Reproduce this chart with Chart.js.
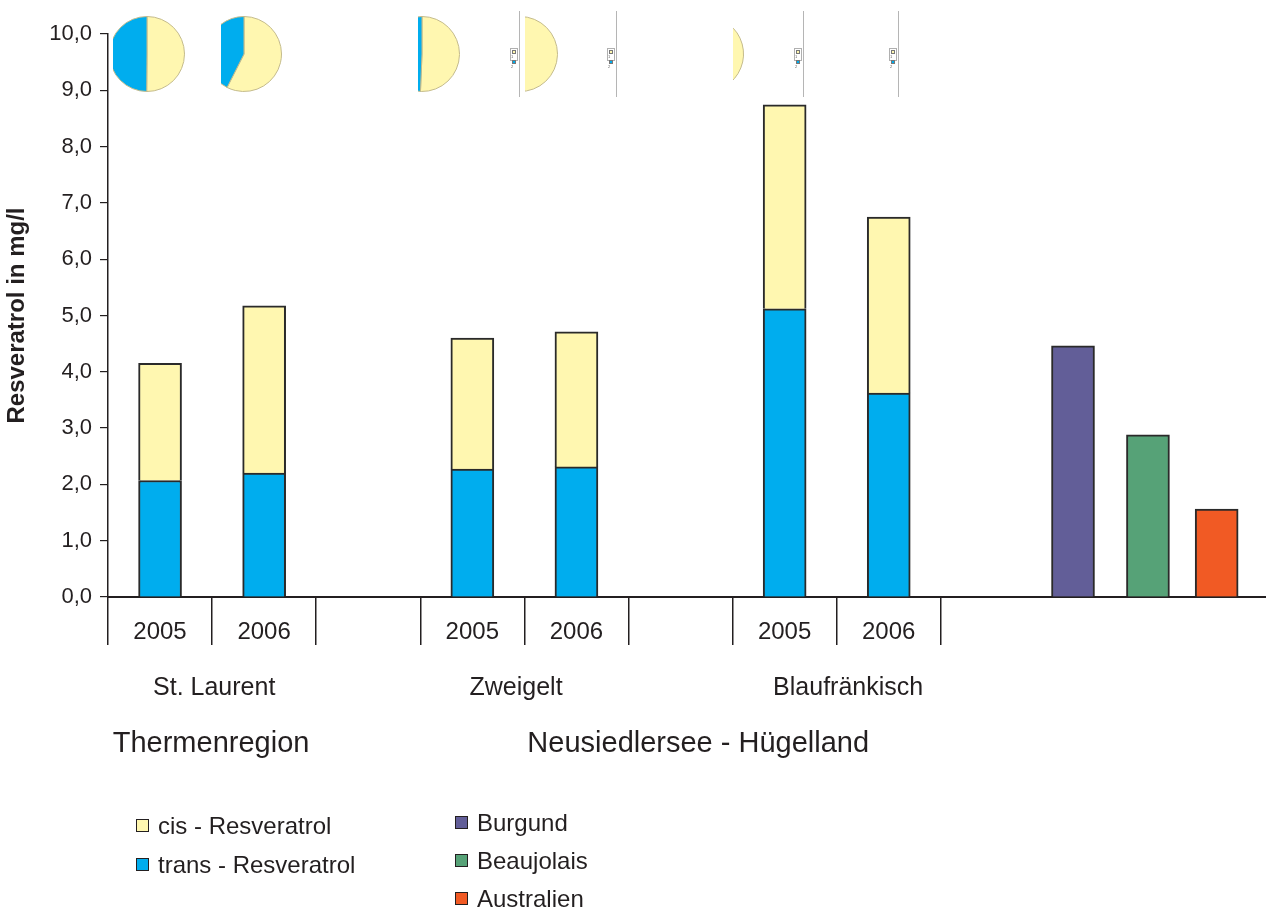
<!DOCTYPE html>
<html lang="de">
<head>
<meta charset="utf-8">
<title>Resveratrol in mg/l</title>
<script src="https://cdn.jsdelivr.net/npm/chart.js@4/dist/chart.umd.min.js"></script>
<style>
  html, body { margin: 0; padding: 0; background: #ffffff; }
  #stage { position: relative; width: 1266px; height: 908px; overflow: hidden;
           font-family: 'Liberation Sans', Arial, sans-serif; color: #231f20; }
  #main { position: absolute; left: 0; top: 0; }
  .inset { position: absolute; top: 0; height: 100px; overflow: hidden; }
  .inset canvas { position: absolute; }
  .rule { position: absolute; top: 11px; width: 1px; height: 86px; background: #b5b5b5; }
  .mini { position: absolute; top: 48px; width: 6px; height: 11px; border: 1px solid #b0b0b0;
          background: #fff; font-size: 4px; line-height: 5px; color: #666; }
  .mini i { display: inline-block; width: 2px; height: 2px; margin: 0 0 0 1px; border: 0.5px solid #777; vertical-align: middle; }
  .key { position: absolute; height: 26px; line-height: 26px; font-size: 24px; white-space: nowrap; }
  .key b { position: absolute; left: 0; top: 6px; width: 11px; height: 11px; border: 1.5px solid #231f20; }
  .key span { position: absolute; }
</style>
</head>
<body>
<div id="stage">
  <canvas id="main" width="1266" height="908"></canvas>
</div>
<script>
// Samples: two vintages for each variety
const varieties = ['St. Laurent', 'Zweigelt', 'Blaufränkisch'];
const regions = ['Thermenregion', 'Neusiedlersee - Hügelland'];
const slotLabels = ['2005', '2006', '', '2005', '2006', '', '2005', '2006', ''];
const transValues = [2.07, 2.20, 2.27, 2.31, 5.12, 3.62];
const cisValues = [2.08, 2.97, 2.33, 2.40, 3.62, 3.13];

// Comparison wines
const refNames = ['Burgund', 'Beaujolais', 'Australien'];
const refValues = [4.46, 2.88, 1.56];

const yTickLabels = ['0,0', '1,0', '2,0', '3,0', '4,0', '5,0', '6,0', '7,0', '8,0', '9,0', '10,0'];

// Colours
const cisColor = '#FFF7B0';
const transColor = '#00ADEE';
const refColors = ['#625E98', '#56A277', '#F15A24'];
const ink = '#231f20';

// Where things sit along the x scale (one unit = one slot)
const sampleX = slotLabels.map((l, i) => (l ? i + 0.5 : null)).filter(v => v !== null);
const refX = [9.27, 9.99, 10.65];
const varietyAt = [1.02, 3.92, 7.11];
const regionAt = [0.99, 5.67];

Chart.defaults.font.family = "'Liberation Sans', Arial, sans-serif";
Chart.defaults.color = ink;

const groupLabels = {
  id: 'groupLabels',
  afterDraw(chart) {
    const ctx = chart.ctx;
    const x = chart.scales.x;
    ctx.save();
    ctx.fillStyle = ink;
    ctx.textAlign = 'center';
    ctx.textBaseline = 'middle';
    ctx.font = "25px 'Liberation Sans', Arial, sans-serif";
    varieties.forEach((v, i) => ctx.fillText(v, x.getPixelForValue(varietyAt[i]), 688));
    ctx.font = "29px 'Liberation Sans', Arial, sans-serif";
    regions.forEach((r, i) => ctx.fillText(r, x.getPixelForValue(regionAt[i]), 744));
    ctx.restore();
  }
};

const bar = { borderColor: '#2a2a2a', borderWidth: 2, barThickness: 43, stack: 'all' };

new Chart(document.getElementById('main'), {
  type: 'bar',
  data: {
    datasets: [
      Object.assign({ label: 'trans - Resveratrol', backgroundColor: transColor,
        data: sampleX.map((x, i) => ({ x, y: transValues[i] })) }, bar),
      Object.assign({ label: 'cis - Resveratrol', backgroundColor: cisColor,
        data: sampleX.map((x, i) => ({ x, y: cisValues[i] })) }, bar),
      Object.assign({ label: 'Vergleich', backgroundColor: refColors,
        data: refX.map((x, i) => ({ x, y: refValues[i] })) }, bar)
    ]
  },
  options: {
    responsive: false,
    devicePixelRatio: 1,
    animation: false,
    events: [],
    layout: { padding: { left: 0, right: 0, top: 34, bottom: 251 } },
    plugins: { legend: { display: false }, tooltip: { enabled: false } },
    scales: {
      x: {
        type: 'linear',
        offset: false,
        min: 0,
        max: 11.124,
        afterBuildTicks: s => { s.ticks = slotLabels.map((_, i) => ({ value: i })); },
        afterFit: s => { s.height = 60; },
        grid: { offset: false, drawOnChartArea: false, drawTicks: true, tickLength: 48, color: ink, lineWidth: 1.5 },
        border: { display: true, color: ink, width: 2 },
        ticks: {
          autoSkip: false, maxRotation: 0, minRotation: 0,
          labelOffset: 52, padding: -27,
          font: { size: 24 }, color: ink,
          callback: (v, i) => slotLabels[i]
        }
      },
      y: {
        stacked: true,
        min: 0,
        max: 10,
        afterFit: s => { s.width = 108; },
        grid: { drawOnChartArea: false, drawTicks: true, tickLength: 8, color: ink, lineWidth: 1.2 },
        border: { display: true, color: ink, width: 1.5 },
        ticks: { stepSize: 1, padding: 8, font: { size: 22 }, color: ink,
                 callback: (v, i) => yTickLabels[i] },
        title: { display: true, text: 'Resveratrol in mg/l', color: ink,
                 font: { size: 24, weight: 'bold' }, padding: { top: 3, bottom: 0 } }
      }
    }
  },
  plugins: [groupLabels]
});

// Small pie insets along the top, one per sample (cis share vs. trans share)
const stage = document.getElementById('stage');
const insets = [
  { cx: 147, clip: [113, 205] },
  { cx: 243.5, clip: [220.6, 300] },
  { cx: 422, clip: [418.3, 519], rule: 519 },
  { cx: 519.7, clip: [525, 616], rule: 616 },
  { cx: 706.4, clip: [732.7, 803], rule: 803 },
  { cx: 802, clip: [898, 898], rule: 898 }
];
insets.forEach((f, i) => {
  const wrap = document.createElement('div');
  wrap.className = 'inset';
  wrap.style.left = f.clip[0] + 'px';
  wrap.style.width = Math.max(0, f.clip[1] - f.clip[0]) + 'px';
  const cv = document.createElement('canvas');
  cv.width = 76; cv.height = 76;
  cv.style.left = (f.cx - 38 - f.clip[0]) + 'px';
  cv.style.top = '16px';
  wrap.appendChild(cv);
  stage.appendChild(wrap);
  new Chart(cv, {
    type: 'pie',
    data: {
      labels: ['1', '2'],
      datasets: [{ data: [cisValues[i], transValues[i]], backgroundColor: [cisColor, transColor],
                   borderColor: '#c4bb8c', borderWidth: 1 }]
    },
    options: { responsive: false, devicePixelRatio: 1, animation: false, events: [],
               layout: { padding: 0 },
               plugins: { legend: { display: false }, tooltip: { enabled: false } } }
  });
  if (f.rule) {
    const r = document.createElement('div');
    r.className = 'rule';
    r.style.left = f.rule + 'px';
    stage.appendChild(r);
    const m = document.createElement('div');
    m.className = 'mini';
    m.style.left = (f.rule - 9) + 'px';
    m.innerHTML = '<div><i style="background:' + cisColor + '"></i>1</div><div><i style="background:' + transColor + '"></i>2</div>';
    stage.appendChild(m);
  }
});

// Legend blocks
function addKey(left, centerY, color, text) {
  const k = document.createElement('div');
  k.className = 'key';
  k.style.left = left + 'px';
  k.style.top = (centerY - 13) + 'px';
  k.innerHTML = '<b style="background:' + color + '"></b><span style="left:' + 22 + 'px">' + text + '</span>';
  stage.appendChild(k);
}
addKey(136, 826, cisColor, 'cis - Resveratrol');
addKey(136, 865, transColor, 'trans - Resveratrol');
refNames.forEach((n, i) => addKey(455, 823 + i * 38, refColors[i], n));
</script>
</body>
</html>
